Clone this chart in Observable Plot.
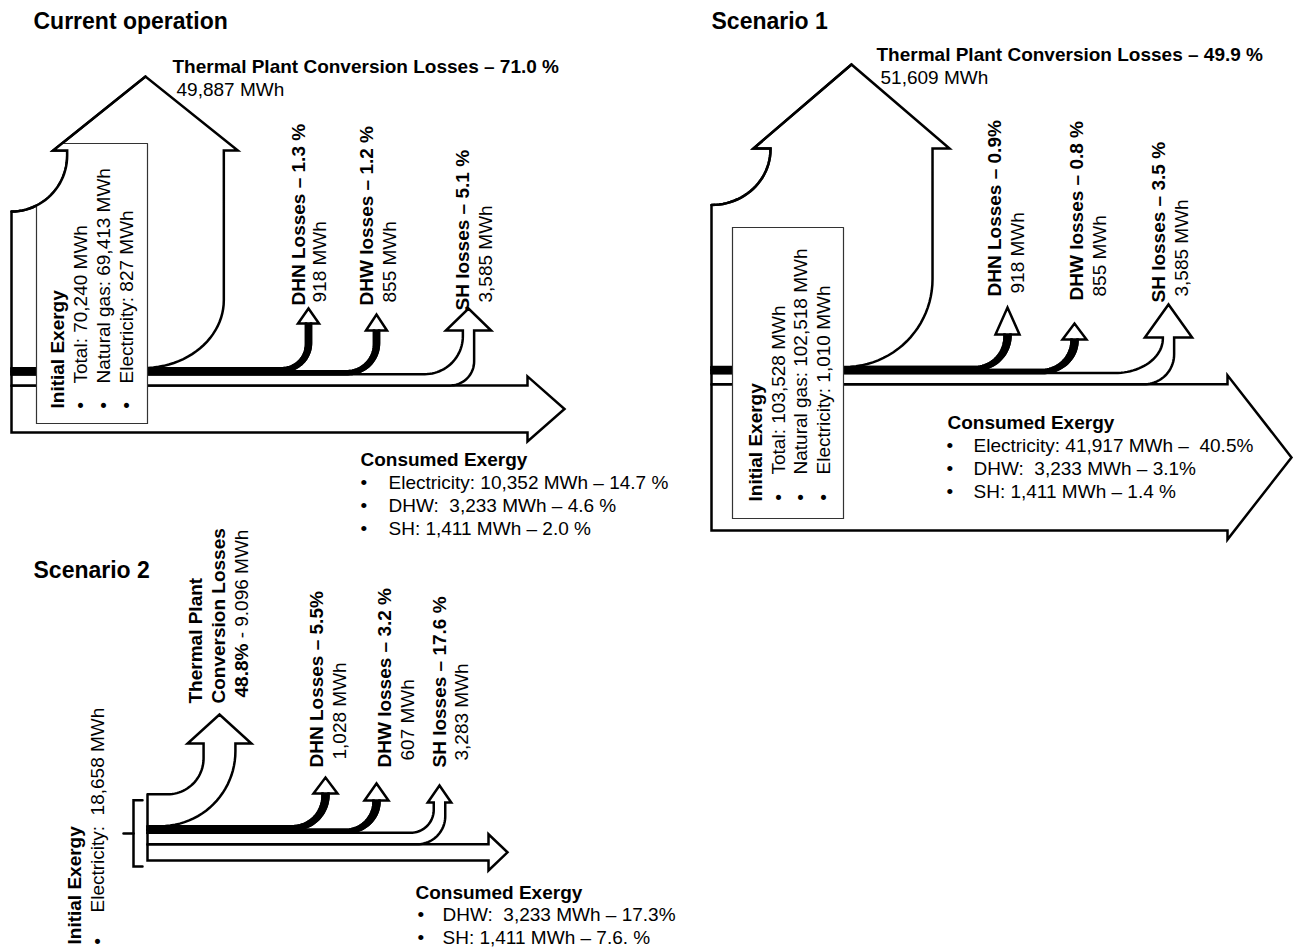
<!DOCTYPE html>
<html>
<head>
<meta charset="utf-8">
<script src="https://cdn.jsdelivr.net/npm/d3@7"></script>
<script src="https://cdn.jsdelivr.net/npm/@observablehq/plot@0.6"></script>
<style>
  html, body { margin: 0; padding: 0; background: #fff; }
  svg text { white-space: pre; }
</style>
</head>
<body>
<div id="chart"></div>
<script>
// ---------------- DATA ----------------
const scenarios = ["Current operation", "Scenario 1", "Scenario 2"];
const initialTotal = [70240, 103528, 18658];
const initialNaturalGas = [69413, 102518, null];
const initialElectricity = [827, 1010, 18658];
const thermalLosses = [49887, 51609, 9096];
const thermalLossesPct = ["71.0 %", "49.9 %", "48.8%"];
const lossNames = ["DHN Losses", "DHW losses", "SH losses"];
const dhnLosses = [918, 918, 1028];
const dhwLosses = [855, 855, 607];
const shLosses = [3585, 3585, 3283];
const dhnLossesPct = ["1.3 %", "0.9%", "5.5%"];
const dhwLossesPct = ["1.2 %", "0.8 %", "3.2 %"];
const shLossesPct = ["5.1 %", "3.5 %", "17.6 %"];
const consumedNames = ["Electricity", "DHW", "SH"];
const consumedElectricity = [10352, 41917, null];
const consumedDHW = [3233, 3233, 3233];
const consumedSH = [1411, 1411, 1411];
const consumedElectricityPct = ["14.7 %", " 40.5%", null];
const consumedDHWPct = ["4.6 %", "3.1%", "17.3%"];
const consumedSHPct = ["2.0 %", "1.4 %", "7.6. %"];

// ---------------- LAYOUT (positions / sizes, per panel) ----------------
const layout = [
  { x0: 11, yBase: 432, k: 0.00314, minW: 3, thin: 5,
    thermal: {cx: 145, rIn: 56, rOut: [81, 68], yHead: 150, barb: 14, headLen: 74},
    branches: [
      {cx: 308, rIn: 24, rOut: 28, yHead: 323, barb: 8, headLen: 15, shaft: 5},
      {cx: 376, rIn: 27, rOut: 31, yHead: 330, barb: 8, headLen: 16, shaft: 5},
      {cx: 468, rIn: 38, rOut: 24, yHead: 330, barb: 17, headLen: 22}],
    consumed: {xHead: 527, barb: 9, headLen: 37},
    title: [33, 28],
    thermalText: {bold: [172, 72], value: [176, 95]},
    lossText: {boldX: [304, 372, 468], boldY: [305, 305, 310], valX: [325, 395, 491], valY: [302, 302, 302]},
    box: [36, 143, 147, 423],
    initText: {x: [63, 86, 109, 132], headY: 408, lineY: 383, bulletY: 405},
    consText: {x: 360, y: 465, bulletX: 360, textX: 388, dy: 23}
  },
  { x0: 711, yBase: 530, k: 0.00314, minW: 3, thin: 5,
    thermal: {cx: 851, rIn: 59, rOut: 88, yHead: 148, barb: 17, headLen: 84},
    branches: [
      {cx: 1007, rIn: 30, rOut: 35, yHead: 334, barb: 9, headLen: 27, shaft: 6},
      {cx: 1074, rIn: 30, rOut: 35, yHead: 339, barb: 9, headLen: 16, shaft: 6},
      {cx: 1168, rIn: 48, rOut: 30, yHead: 337, barb: 18, headLen: 33}],
    consumed: {xHead: 1227, barb: 9, headLen: 64},
    title: [711, 28],
    thermalText: {bold: [876, 60], value: [880, 83]},
    lossText: {boldX: [1000, 1082, 1164], boldY: [296, 300, 302], valX: [1023, 1105, 1187], valY: [293, 296, 296]},
    box: [732, 227, 843, 518],
    initText: {x: [761, 784, 806, 829], headY: 501, lineY: 474, bulletY: 497},
    consText: {x: 947, y: 428, bulletX: 946, textX: 973, dy: 23}
  },
  { x0: 147, yBase: 860, k: 0.0035, minW: 3, thin: 5,
    thermal: {cx: 219, rIn: 36, rOut: 75, yHead: 743, barb: 16, headLen: 29},
    branches: [
      {cx: 325, rIn: 30, rOut: 35, yHead: 793, barb: 9, headLen: 16, shaft: 6},
      {cx: 376, rIn: 28, rOut: 33, yHead: 800, barb: 9, headLen: 17, shaft: 6},
      {cx: 439, rIn: 23, rOut: 28, yHead: 802, barb: 6, headLen: 17}],
    consumed: {xHead: 488, barb: 10, headLen: 19},
    title: [33, 577],
    thermalText: {rotX: [201, 224, 247], rotY: [703, 703, 697], sep: "."},
    lossText: {boldX: [322, 390, 445], boldY: [767, 767, 767], valX: [345, 413, 467], valY: [759, 760, 760]},
    box: null,
    bracket: {dx: 14, arm: 9, tick: 10, dy: 6},
    initText: {x: [80, 103], headY: 944, lineY: 912, bulletY: 941},
    consText: {x: 415, y: 898, bulletX: 417, textX: 442, dy: 22.5}
  }
];

const FONT = "Liberation Sans, Arial, Helvetica, sans-serif";
const fmt = d3.format(",");

// ---------------- GEOMETRY HELPERS ----------------
const radii = r => Array.isArray(r) ? r.slice() : [r, r];
function arcPts(cx, cy, rx, ry, a0, a1, n = 24) {
  const pts = [];
  for (let i = 0; i <= n; i++) {
    const a = a0 + (a1 - a0) * i / n;
    pts.push([cx + rx * Math.cos(a), cy + ry * Math.sin(a)]);
  }
  return pts;
}
function branchShape(x0, yT, yB, w, B) {
  const sw = Math.max(w, B.shaft ?? 0);
  const cx = B.cx, xL = cx - sw / 2, xR = cx + sw / 2;
  let [ix, iy] = radii(B.rIn), [ox, oy] = radii(B.rOut);
  ix = Math.min(ix, xL - x0); iy = Math.min(iy, yT - B.yHead - 1);
  ox = Math.min(ox, xR - x0); oy = Math.min(oy, yB - B.yHead - 1);
  const inner = [[x0, yT], [xL - ix, yT], ...arcPts(xL - ix, yT - iy, ix, iy, Math.PI / 2, 0), [xL, B.yHead]];
  const head = [[xL - B.barb, B.yHead], [cx, B.yHead - B.headLen], [xR + B.barb, B.yHead], [xR, B.yHead]];
  const outer = [...arcPts(xR - ox, yB - oy, ox, oy, 0, Math.PI / 2), [x0, yB]];
  return {
    shape: [...inner, ...head, ...outer, [x0, yT]],
    body: [...inner, [xR, B.yHead], ...outer, [x0, yT]],
    inner: [...inner, head[0], head[1]]
  };
}
function straightShape(x0, yT, yB, C) {
  const ym = (yT + yB) / 2;
  return [[x0, yT], [C.xHead, yT], [C.xHead, yT - C.barb], [C.xHead + C.headLen, ym],
          [C.xHead, yB + C.barb], [C.xHead, yB], [x0, yB], [x0, yT]];
}
function clipHalf(poly, inside, inter) {
  const out = [];
  for (let i = 0; i < poly.length; i++) {
    const cur = poly[i], prev = poly[(i + poly.length - 1) % poly.length];
    const ci = inside(cur), pi = inside(prev);
    if (ci) { if (!pi) out.push(inter(prev, cur)); out.push(cur); }
    else if (pi) out.push(inter(prev, cur));
  }
  return out;
}
const ix_ = (a, b, x) => [x, a[1] + (b[1] - a[1]) * (x - a[0]) / (b[0] - a[0])];
const iy_ = (a, b, y) => [a[0] + (b[0] - a[0]) * (y - a[1]) / (b[1] - a[1]), y];
function clipRect(poly, [x1, y1, x2, y2]) {
  let p = poly;
  p = clipHalf(p, q => q[0] >= x1, (a, b) => ix_(a, b, x1));
  p = clipHalf(p, q => q[0] <= x2, (a, b) => ix_(a, b, x2));
  p = clipHalf(p, q => q[1] >= y1, (a, b) => iy_(a, b, y1));
  p = clipHalf(p, q => q[1] <= y2, (a, b) => iy_(a, b, y2));
  return p;
}

// ---------------- BUILD ----------------
const shapes = [];        // ordered list of {pts, fill, stroke, sw}
const overlays = [];      // box + redrawn edges + bracket, drawn after flows
const texts = [];
const toRows = pts => pts.map(([x, y]) => ({x, y}));
function addText(x, y, text, o = {}) {
  texts.push({x, y, text, size: o.size ?? 19, bold: !!o.bold, rot: o.rot ?? 0, anchor: o.anchor ?? "start"});
}
const ctx = document.createElement("canvas").getContext("2d");

scenarios.forEach((name, p) => {
  const L = layout[p];
  const consumedVals = [consumedElectricity[p], consumedDHW[p], consumedSH[p]];
  const consumedPct = [consumedElectricityPct[p], consumedDHWPct[p], consumedSHPct[p]];
  const consumedTotal = d3.sum(consumedVals.filter(v => v != null));
  const lossVals = [dhnLosses[p], dhwLosses[p], shLosses[p]];
  const lossPct = [dhnLossesPct[p], dhwLossesPct[p], shLossesPct[p]];
  const flows = [thermalLosses[p], ...lossVals, consumedTotal];
  const widths = flows.map(v => Math.max(v * L.k, L.minW));
  const ys = [];
  let y = L.yBase;
  for (let i = flows.length - 1; i >= 0; i--) { ys[i] = [y - widths[i], y]; y -= widths[i]; }
  const yTop = y;

  // flows: consumed first, then losses from the bottom, thermal last
  shapes.push({pts: straightShape(L.x0, ys[4][0], ys[4][1], L.consumed), fill: "white"});
  for (let j = 2; j >= 0; j--) {
    const s = branchShape(L.x0, ys[j + 1][0], ys[j + 1][1], widths[j + 1], L.branches[j]);
    shapes.push({pts: s.shape, fill: "white"});
    if (lossVals[j] * L.k < L.thin) shapes.push({pts: s.body, fill: "black"});
  }
  const th = branchShape(L.x0, ys[0][0], ys[0][1], widths[0], L.thermal);
  shapes.push({pts: th.shape, fill: "white"});

  // initial exergy box (clipped by the thermal arrow's inner edge)
  if (L.box) {
    const apex = th.inner[th.inner.length - 1];
    const region = [[L.x0, 5000], ...th.inner, [5000, apex[1]], [5000, 5000]];
    const poly = clipRect(region, L.box);
    overlays.push({pts: [...poly, poly[0]], fill: "white", stroke: "#333", sw: 1.2});
    overlays.push({pts: th.inner, fill: "none", stroke: "black", sw: 2.5});
  }
  if (L.bracket) {
    const B = L.bracket, bx = L.x0 - B.dx, y1 = yTop + B.dy, y2 = L.yBase + B.dy;
    overlays.push({pts: [[bx + B.arm, y1], [bx, y1], [bx, y2], [bx + B.arm, y2]], fill: "none", stroke: "black", sw: 2.5});
    overlays.push({pts: [[bx - B.tick, (y1 + y2) / 2], [bx, (y1 + y2) / 2]], fill: "none", stroke: "black", sw: 2.5});
  }

  // ---- texts ----
  addText(L.title[0], L.title[1], name, {bold: true, size: 23});
  const T = L.thermalText;
  if (T.bold) {
    addText(T.bold[0], T.bold[1], `Thermal Plant Conversion Losses – ${thermalLossesPct[p]}`, {bold: true});
    addText(T.value[0], T.value[1], `${fmt(thermalLosses[p])} MWh`);
  } else {
    addText(T.rotX[0], T.rotY[0], "Thermal Plant", {bold: true, rot: -90});
    addText(T.rotX[1], T.rotY[1], "Conversion Losses", {bold: true, rot: -90});
    addText(T.rotX[2], T.rotY[2], thermalLossesPct[p], {bold: true, rot: -90});
    ctx.font = `bold 19px ${FONT}`;
    const wb = ctx.measureText(thermalLossesPct[p]).width;
    addText(T.rotX[2], T.rotY[2] - wb, ` - ${fmt(thermalLosses[p]).replace(/,/g, T.sep)} MWh`, {rot: -90});
  }
  lossNames.forEach((ln, j) => {
    addText(L.lossText.boldX[j], L.lossText.boldY[j], `${ln} – ${lossPct[j]}`, {bold: true, rot: -90});
    addText(L.lossText.valX[j], L.lossText.valY[j], `${fmt(lossVals[j])} MWh`, {rot: -90});
  });

  // initial exergy text (rotated)
  const I = L.initText;
  addText(I.x[0], I.headY, "Initial Exergy", {bold: true, rot: -90});
  const initLines = initialNaturalGas[p] != null
    ? [`Total: ${fmt(initialTotal[p])} MWh`, `Natural gas: ${fmt(initialNaturalGas[p])} MWh`, `Electricity: ${fmt(initialElectricity[p])} MWh`]
    : [`Electricity:  ${fmt(initialElectricity[p])} MWh`];
  initLines.forEach((t, i) => {
    addText(I.x[i + 1], I.lineY, t, {rot: -90});
    addText(I.x[i + 1], I.bulletY, "•", {rot: -90, anchor: "middle"});
  });

  // consumed exergy text
  const C = L.consText;
  addText(C.x, C.y, "Consumed Exergy", {bold: true});
  let line = 0;
  consumedNames.forEach((cn, i) => {
    if (consumedVals[i] == null) return;
    line++;
    const sep = cn === "DHW" ? ":  " : ": ";
    addText(C.bulletX, C.y + C.dy * line, "•");
    addText(C.textX, C.y + C.dy * line, `${cn}${sep}${fmt(consumedVals[i])} MWh – ${consumedPct[i]}`);
  });
});

// ---------------- PLOT ----------------
const lineMark = s => Plot.line(toRows(s.pts), {
  x: "x", y: "y", curve: "linear",
  fill: s.fill, stroke: s.stroke ?? "black", strokeWidth: s.sw ?? 2.5,
  strokeLinejoin: "miter", strokeMiterlimit: 4
});
const textGroups = d3.groups(texts, d => `${d.bold}|${d.anchor}|${d.rot}|${d.size}`);
const textMarks = textGroups.map(([key, rows]) => {
  const r = rows[0];
  return Plot.text(rows, {
    x: "x", y: "y", text: "text",
    fontSize: r.size, fontWeight: r.bold ? "bold" : "normal",
    rotate: r.rot, textAnchor: r.anchor, lineAnchor: "bottom",
    fill: "black", fontFamily: FONT
  });
});

const chart = Plot.plot({
  width: 1295,
  height: 948,
  margin: 0,
  x: {type: "linear", domain: [0, 1295], range: [0, 1295], axis: null},
  y: {type: "linear", domain: [0, 948], range: [0, 948], axis: null},
  style: {fontFamily: FONT, background: "white", color: "black"},
  marks: [
    ...shapes.map(lineMark),
    ...overlays.map(lineMark),
    ...textMarks
  ]
});
document.getElementById("chart").appendChild(chart);
</script>
</body>
</html>
